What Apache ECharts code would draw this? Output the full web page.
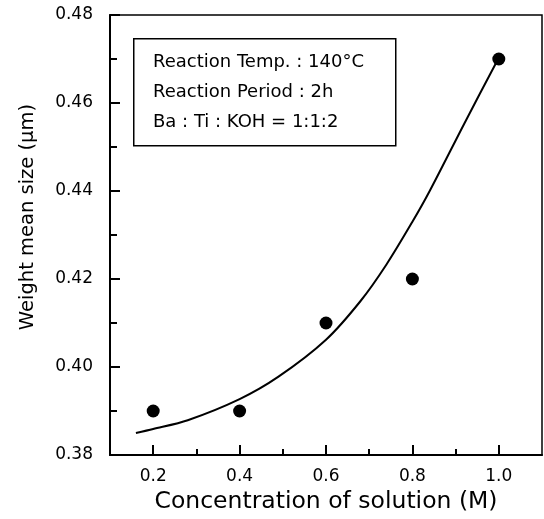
<!DOCTYPE html>
<html>
<head>
<meta charset="utf-8">
<script src="https://cdn.jsdelivr.net/npm/echarts@6/dist/echarts.min.js"></script>
<style>
  html, body { margin: 0; padding: 0; background: #fff; }
  #container { width: 544px; height: 519px; }
</style>
</head>
<body>
<div id="container"></div>
<script>
// measured points
const conc = [0.2, 0.4, 0.6, 0.8, 1.0];
const size = [0.39, 0.39, 0.41, 0.42, 0.47];

// fitted curve
const fitX = [0.16, 0.2, 0.28, 0.4, 0.49, 0.6, 0.68, 0.74, 0.8, 0.84, 0.92, 1.0];
const fitY = [0.385, 0.3859, 0.3879, 0.3927, 0.3978, 0.4062, 0.415, 0.4233, 0.433, 0.44, 0.4553, 0.4703];

// ticks
const xMajor = [0.2, 0.4, 0.6, 0.8, 1.0];
const xMinor = [0.3, 0.5, 0.7, 0.9];

const notes = [
  "Reaction Temp. : 140°C",
  "Reaction Period : 2h",
  "Ba : Ti : KOH = 1:1:2"
];

const font = "'DejaVu Sans', 'Liberation Sans', Arial, sans-serif";

function echartSetup(container) {
  let myChart = echarts.init(document.getElementById(container)),
    option,
    pts = [],
    fit = [],
    graphic = [];

  for (let i = 0; i < conc.length; i++) pts.push([conc[i], size[i]]);
  for (let i = 0; i < fitX.length; i++) fit.push([fitX[i], fitY[i]]);

  // text box
  graphic.push({
    type: "rect",
    left: 133,
    top: 38,
    shape: { width: 262, height: 107 },
    style: { fill: "#fff", stroke: "#000", lineWidth: 1.5 }
  });
  for (let i = 0; i < notes.length; i++) {
    graphic.push({
      type: "text",
      left: 153,
      top: 53 + i * 30,
      style: { text: notes[i], font: "18px " + font, fill: "#000" }
    });
  }

  option = {
    animation: false,
    backgroundColor: "#fff",
    grid: {
      left: 110,
      right: 2,
      top: 15,
      bottom: 64,
      show: true,
      borderColor: "#000",
      borderWidth: 1.5
    },
    xAxis: [
      {
        type: "value",
        min: 0.1,
        max: 1.1,
        name: "Concentration of solution (M)",
        nameLocation: "middle",
        nameGap: 34,
        nameTextStyle: { fontFamily: font, fontSize: 23.5, color: "#000" },
        axisLine: { onZero: false, lineStyle: { color: "#000", width: 2 } },
        axisTick: { inside: true, length: 10, customValues: xMajor, lineStyle: { color: "#000", width: 2 } },
        axisLabel: {
          customValues: xMajor,
          margin: 13,
          fontFamily: font,
          fontSize: 17,
          color: "#000",
          formatter: v => v.toFixed(1)
        },
        splitLine: { show: false }
      },
      {
        type: "value",
        min: 0.1,
        max: 1.1,
        position: "bottom",
        axisLine: { show: false },
        axisTick: { inside: true, length: 6, customValues: xMinor, lineStyle: { color: "#000", width: 2 } },
        axisLabel: { show: false },
        splitLine: { show: false }
      }
    ],
    yAxis: {
      type: "value",
      min: 0.38,
      max: 0.48,
      interval: 0.02,
      name: "Weight mean size (\u03bcm)",
      nameLocation: "middle",
      nameGap: 72,
      nameTextStyle: { fontFamily: font, fontSize: 19.5, color: "#000", padding: [0, 0, 0, 36] },
      axisLine: { onZero: false, lineStyle: { color: "#000", width: 2 } },
      axisTick: { inside: true, length: 10, lineStyle: { color: "#000", width: 2 } },
      minorTick: { show: true, splitNumber: 2, length: 7, lineStyle: { color: "#000", width: 2 } },
      axisLabel: {
        margin: 17,
        fontFamily: font,
        fontSize: 17,
        color: "#000",
        formatter: v => v.toFixed(2)
      },
      splitLine: { show: false }
    },
    graphic: graphic,
    series: [
      {
        name: "fit",
        type: "line",
        data: fit,
        smooth: 0.3,
        showSymbol: false,
        lineStyle: { color: "#000", width: 2 }
      },
      {
        name: "size",
        type: "scatter",
        data: pts,
        symbolSize: 13,
        itemStyle: { color: "#000", opacity: 1 }
      }
    ]
  };
  myChart.setOption(option);
}

echartSetup("container");
</script>
</body>
</html>
